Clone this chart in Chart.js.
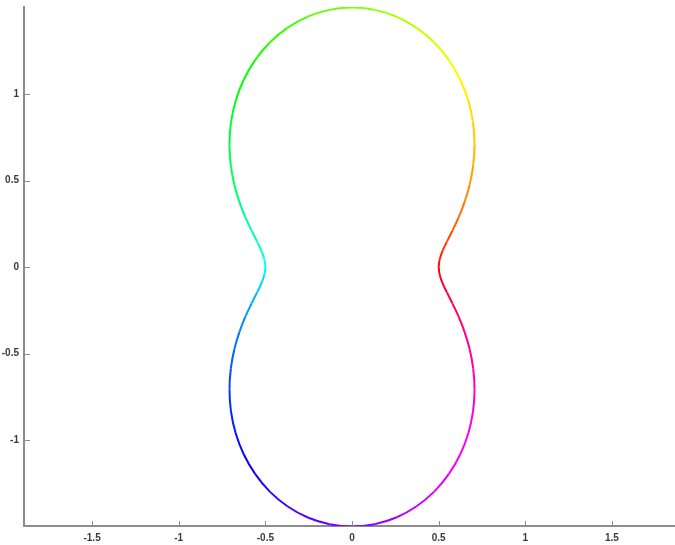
<!DOCTYPE html>
<html>
<head>
<meta charset="utf-8">
<script src="https://cdn.jsdelivr.net/npm/chart.js@4/dist/chart.umd.min.js"></script>
<style>
  html, body { margin: 0; padding: 0; background: #fff; }
  #wrap { width: 675px; height: 545px; }
</style>
</head>
<body>
<div id="wrap"><canvas id="c" width="675" height="545"></canvas></div>
<script>
// Polar curve: angle (degrees) and radius at each sample
const angles = [
  0, 5, 10, 15, 20, 25, 30, 35, 40, 45, 50, 55, 60, 65, 70, 75, 80, 85, 90,
  95, 100, 105, 110, 115, 120, 125, 130, 135, 140, 145, 150, 155, 160, 165, 170, 175, 180,
  185, 190, 195, 200, 205, 210, 215, 220, 225, 230, 235, 240, 245, 250, 255, 260, 265, 270,
  275, 280, 285, 290, 295, 300, 305, 310, 315, 320, 325, 330, 335, 340, 345, 350, 355, 360
];
const radii = [
  0.500, 0.508, 0.530, 0.567, 0.617, 0.679, 0.750, 0.829, 0.913, 1.000, 1.087, 1.171, 1.250, 1.321, 1.383, 1.433, 1.470, 1.492, 1.500,
  1.492, 1.470, 1.433, 1.383, 1.321, 1.250, 1.171, 1.087, 1.000, 0.913, 0.829, 0.750, 0.679, 0.617, 0.567, 0.530, 0.508, 0.500,
  0.508, 0.530, 0.567, 0.617, 0.679, 0.750, 0.829, 0.913, 1.000, 1.087, 1.171, 1.250, 1.321, 1.383, 1.433, 1.470, 1.492, 1.500,
  1.492, 1.470, 1.433, 1.383, 1.321, 1.250, 1.171, 1.087, 1.000, 0.913, 0.829, 0.750, 0.679, 0.617, 0.567, 0.530, 0.508, 0.500
];
const xTicks = [-1.5, -1, -0.5, 0, 0.5, 1, 1.5];
const yTicks = [-1, -0.5, 0, 0.5, 1];

// Cartesian points for the line
const points = angles.map((a, i) => {
  const t = a * Math.PI / 180;
  return { x: radii[i] * Math.cos(t), y: radii[i] * Math.sin(t) };
});

const axisColor = '#8c8c8c';

// Short inward tick marks on both axes
const inwardTicks = {
  id: 'inwardTicks',
  afterDraw(chart) {
    const ctx = chart.ctx;
    const xs = chart.scales.x, ys = chart.scales.y;
    const area = chart.chartArea;
    ctx.save();
    ctx.strokeStyle = axisColor;
    ctx.lineWidth = 1;
    ctx.beginPath();
    xTicks.forEach(v => {
      const px = Math.round(xs.getPixelForValue(v)) + 0.5;
      ctx.moveTo(px, area.bottom);
      ctx.lineTo(px, area.bottom - 5);
    });
    yTicks.forEach(v => {
      const py = Math.round(ys.getPixelForValue(v)) + 0.5;
      ctx.moveTo(area.left, py);
      ctx.lineTo(area.left + 6, py);
    });
    ctx.stroke();
    ctx.restore();
  }
};

const tickFont = { family: '"Liberation Sans", Arial, sans-serif', size: 10, weight: 'bold' };

new Chart(document.getElementById('c'), {
  type: 'scatter',
  data: {
    datasets: [{
      data: points,
      showLine: true,
      fill: false,
      pointRadius: 0,
      borderWidth: 2,
      tension: 0.4,
      borderColor: 'red',
      segment: {
        borderColor: ctx => {
          const a = (angles[ctx.p0DataIndex] + angles[ctx.p1DataIndex]) / 2;
          return `hsl(${a % 360}, 100%, 50%)`;
        }
      }
    }]
  },
  options: {
    responsive: false,
    animation: false,
    layout: { padding: { top: 7, right: 0, left: 0, bottom: 0 } },
    plugins: { legend: { display: false }, tooltip: { enabled: false } },
    scales: {
      x: {
        type: 'linear',
        min: -1.893,
        max: 1.864,
        grid: { display: false, drawTicks: false },
        border: { display: true, color: axisColor, width: 2 },
        afterBuildTicks: s => { s.ticks = xTicks.map(v => ({ value: v })); },
        afterFit: s => { s.height = 19; s.paddingLeft = 0; s.paddingRight = 0; },
        ticks: {
          padding: 6,
          color: '#3a3a3a',
          font: tickFont,
          maxRotation: 0,
          callback: v => String(v)
        }
      },
      y: {
        type: 'linear',
        min: -1.497,
        max: 1.503,
        grid: { display: false, drawTicks: false },
        border: { display: true, color: axisColor, width: 2 },
        afterBuildTicks: s => { s.ticks = yTicks.map(v => ({ value: v })); },
        afterFit: s => { s.width = 24; s.paddingTop = 0; s.paddingBottom = 0; },
        ticks: {
          padding: 5,
          color: '#3a3a3a',
          font: tickFont,
          callback: v => String(v)
        }
      }
    }
  },
  plugins: [inwardTicks]
});
</script>
</body>
</html>
